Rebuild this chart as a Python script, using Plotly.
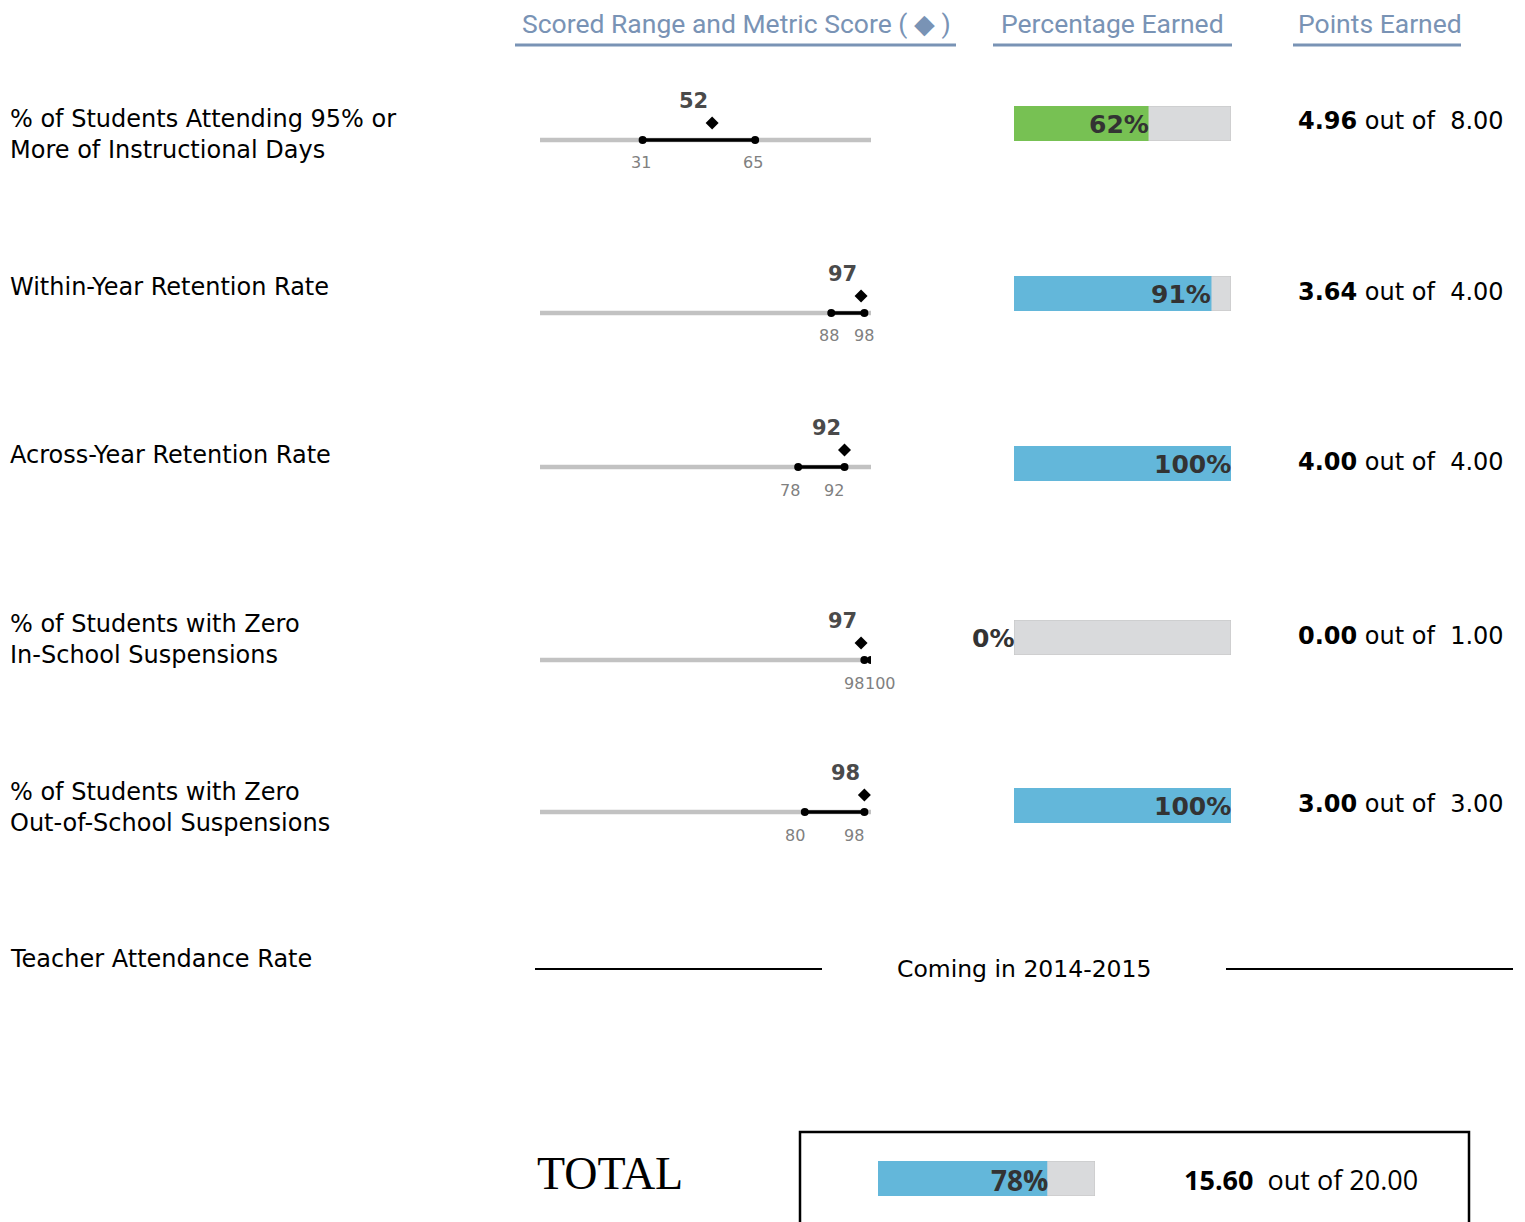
import plotly.graph_objects as go

# ---------------- data ----------------
metrics = [
    "% of Students Attending 95% or<br>More of Instructional Days",
    "Within-Year Retention Rate",
    "Across-Year Retention Rate",
    "% of Students with Zero<br>In-School Suspensions",
    "% of Students with Zero<br>Out-of-School Suspensions",
]
range_low = [31, 88, 78, 98, 80]
range_high = [65, 98, 92, 100, 98]
metric_scores = [52, 97, 92, 97, 98]
pct_earned = [62, 91, 100, 0, 100]
points_earned = [4.96, 3.64, 4.00, 0.00, 3.00]
points_possible = [8.00, 4.00, 4.00, 1.00, 3.00]

pending_metric = "Teacher Attendance Rate"
pending_note = "Coming in 2014-2015"

total_label = "TOTAL"
total_pct = 78
total_points = 15.60
total_possible = 20.00

headers = ["Scored Range and Metric Score ( \u25c6 )", "Percentage Earned", "Points Earned"]

# ---------------- layout helpers (pixel geometry of the page) ----------------
OFF = 8  # page body margin
W, H = 1525 - OFF, 1222 - OFF
def px(x):
    return (x - OFF) / W
def py(y):
    return 1 - (y - OFF) / H

range_line_y = [140, 313, 467, 660, 812]
bar_top = [106, 276, 446, 620, 788]
label_y = [135, 287, 455, 639, 807]
bar_colors = ["#77c153", "#63b7da", "#63b7da", "#63b7da", "#63b7da"]
tick_shift = [(-2, -2), (-2, 0), (-8, -11), (-10, 9), (-10, -10)]
BAR_H = 35

LABEL_FONT = "DejaVu Sans, Verdana, sans-serif"
HEAD_FONT = "Roboto, sans-serif"
HEAD_COLOR = "#7993b5"

fig = go.Figure()
layout = dict(
    width=W, height=H,
    margin=dict(l=0, r=0, t=0, b=0),
    paper_bgcolor="white", plot_bgcolor="rgba(0,0,0,0)",
    showlegend=False, barmode="overlay",
)
annotations = []
shapes = []

def axis_names(k):
    s = "" if k == 1 else str(k)
    return "x" + s, "y" + s, "xaxis" + s, "yaxis" + s

# ---------- range column ----------
for i in range(len(metrics)):
    k = i + 1
    xr, yr, xa, ya = axis_names(k)
    cy = range_line_y[i]
    layout[xa] = dict(domain=[px(540), px(871)], range=[0, 100], visible=False,
                      anchor=yr, fixedrange=True)
    layout[ya] = dict(domain=[py(cy + 30), py(cy - 50)], range=[-30, 50], visible=False,
                      anchor=xr, fixedrange=True)
    fig.add_trace(go.Scatter(x=[0, 100], y=[0, 0], mode="lines",
                             line=dict(color="#c2c2c2", width=4.5),
                             xaxis=xr, yaxis=yr, hoverinfo="skip"))
    fig.add_trace(go.Scatter(x=[range_low[i], range_high[i]], y=[0, 0], mode="lines+markers",
                             line=dict(color="black", width=3.5),
                             marker=dict(color="black", size=8, symbol="circle"),
                             xaxis=xr, yaxis=yr, hoverinfo="skip"))
    fig.add_trace(go.Scatter(x=[metric_scores[i]], y=[17], mode="markers",
                             marker=dict(color="black", size=10, symbol="diamond"),
                             xaxis=xr, yaxis=yr, hoverinfo="skip"))
    annotations.append(dict(x=metric_scores[i], y=0, xref=xr, yref=yr,
                            text="<b>%d</b>" % metric_scores[i], showarrow=False,
                            xanchor="right", yanchor="middle", xshift=-2, yshift=39,
                            font=dict(family=LABEL_FONT, size=21, color="#4a4a4a")))
    for v, sh in zip([range_low[i], range_high[i]], tick_shift[i]):
        annotations.append(dict(x=v, y=0, xref=xr, yref=yr, text=str(v), showarrow=False,
                                xanchor="center", yanchor="middle", xshift=sh, yshift=-23,
                                font=dict(family=LABEL_FONT, size=16, color="#808080")))

# ---------- percentage / points columns ----------
for i in range(len(metrics)):
    k = len(metrics) + i + 1
    xr, yr, xa, ya = axis_names(k)
    t = bar_top[i]
    layout[xa] = dict(domain=[px(1014), px(1231)], range=[0, 100], visible=False,
                      anchor=yr, fixedrange=True)
    layout[ya] = dict(domain=[py(t + BAR_H), py(t)], range=[-0.5, 0.5], visible=False,
                      anchor=xr, fixedrange=True)
    fig.add_trace(go.Bar(x=[100], y=[0], orientation="h", width=1,
                         marker=dict(color="#d9dadc", line=dict(color="#c4c4c4", width=1)),
                         xaxis=xr, yaxis=yr, hoverinfo="skip"))
    fig.add_trace(go.Bar(x=[pct_earned[i]], y=[0], orientation="h", width=1,
                         marker=dict(color=bar_colors[i], line=dict(width=0)),
                         xaxis=xr, yaxis=yr, hoverinfo="skip"))
    annotations.append(dict(x=pct_earned[i], y=0, xref=xr, yref=yr,
                            text="<b>%d%%</b>" % pct_earned[i], showarrow=False,
                            xanchor="right", yanchor="middle", xshift=2, yshift=-1,
                            font=dict(family=LABEL_FONT, size=25, color="#333333")))
    annotations.append(dict(x=px(1296), y=0, xref="paper", yref=yr,
                            text="<b>%.2f</b> out of\u00a0 %.2f" % (points_earned[i], points_possible[i]),
                            showarrow=False, xanchor="left", yanchor="middle", yshift=2,
                            font=dict(family=LABEL_FONT, size=24, color="black")))
    annotations.append(dict(x=px(8), y=py(label_y[i]), xref="paper", yref="paper",
                            text=metrics[i], showarrow=False, xanchor="left", yanchor="middle",
                            align="left",
                            font=dict(family=LABEL_FONT, size=24, color="black")))

# ---------- pending metric row ----------
annotations.append(dict(x=px(8), y=py(959), xref="paper", yref="paper", text=pending_metric,
                        showarrow=False, xanchor="left", yanchor="middle",
                        font=dict(family=LABEL_FONT, size=24, color="black")))
annotations.append(dict(x=px(1024), y=py(969), xref="paper", yref="paper", text=pending_note,
                        showarrow=False, xanchor="center", yanchor="middle",
                        font=dict(family=LABEL_FONT, size=23.5, color="black")))
for x0, x1 in [(535, 822), (1226, 1513)]:
    shapes.append(dict(type="line", xref="paper", yref="paper", x0=px(x0), x1=px(x1),
                       y0=py(969), y1=py(969), line=dict(color="black", width=2)))

# ---------- headers ----------
head_pos = [(736, 515, 956), (1112, 993, 1232), (1380, 1293, 1461)]
for txt, (cx, u0, u1) in zip(headers, head_pos):
    annotations.append(dict(x=px(cx), y=py(24), xref="paper", yref="paper", text=txt,
                            showarrow=False, xanchor="center", yanchor="middle",
                            font=dict(family=HEAD_FONT, size=26.5, color=HEAD_COLOR)))
    shapes.append(dict(type="line", xref="paper", yref="paper", x0=px(u0), x1=px(u1),
                       y0=py(45), y1=py(45), line=dict(color=HEAD_COLOR, width=3)))

# ---------- total ----------
kt = 2 * len(metrics) + 1
xr, yr, xa, ya = axis_names(kt)
layout[xa] = dict(domain=[px(878), px(1095)], range=[0, 100], visible=False, anchor=yr, fixedrange=True)
layout[ya] = dict(domain=[py(1161 + BAR_H), py(1161)], range=[-0.5, 0.5], visible=False,
                  anchor=xr, fixedrange=True)
fig.add_trace(go.Bar(x=[100], y=[0], orientation="h", width=1,
                     marker=dict(color="#d9dadc", line=dict(color="#c4c4c4", width=1)),
                     xaxis=xr, yaxis=yr, hoverinfo="skip"))
fig.add_trace(go.Bar(x=[total_pct], y=[0], orientation="h", width=1,
                     marker=dict(color="#63b7da", line=dict(width=0)),
                     xaxis=xr, yaxis=yr, hoverinfo="skip"))
annotations.append(dict(x=total_pct, y=0, xref=xr, yref=yr, text="<b>%d%%</b>" % total_pct,
                        showarrow=False, xanchor="right", yanchor="middle", xshift=3, yshift=-1,
                        font=dict(family="Open Sans, sans-serif", size=28, color="#333333")))
annotations.append(dict(x=px(1182), y=0, xref="paper", yref=yr,
                        text="<b>%.2f</b>\u00a0 out of %.2f" % (total_points, total_possible),
                        showarrow=False, xanchor="left", yanchor="middle", yshift=-1,
                        font=dict(family="Open Sans, sans-serif", size=27, color="black")))
annotations.append(dict(x=px(535), y=py(1173), xref="paper", yref="paper", text=total_label,
                        showarrow=False, xanchor="left", yanchor="middle",
                        font=dict(family="Liberation Serif, Times New Roman, serif", size=46,
                                  color="black")))
shapes.append(dict(type="rect", xref="paper", yref="paper", x0=px(800), x1=px(1469),
                   y0=py(1240), y1=py(1132), line=dict(color="black", width=2.5),
                   fillcolor="rgba(0,0,0,0)"))

layout["annotations"] = annotations
layout["shapes"] = shapes
fig.update_layout(**layout)
fig.write_html("out.html", config={"displayModeBar": False})
